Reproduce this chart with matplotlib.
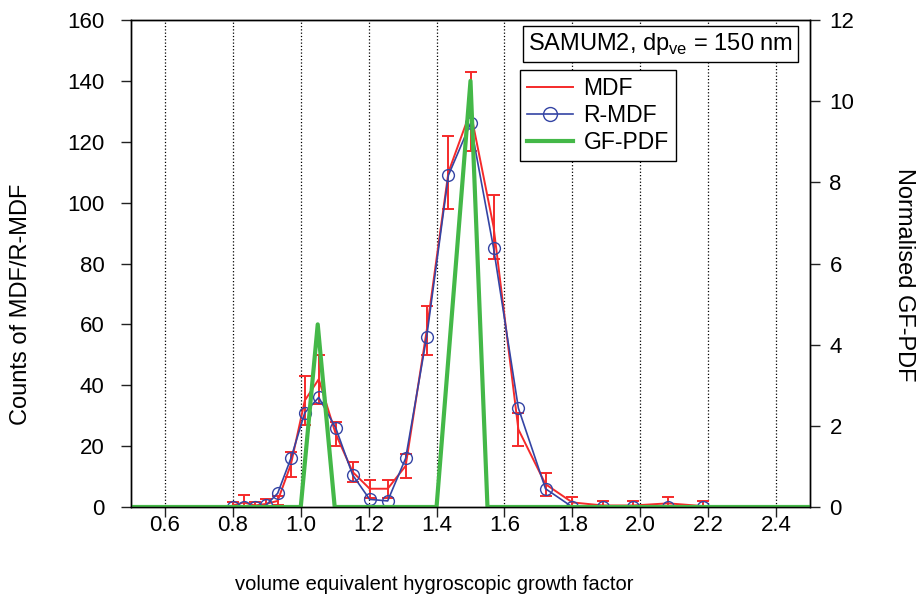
import matplotlib
matplotlib.use("Agg")
import matplotlib.pyplot as plt
from matplotlib.lines import Line2D

plt.rcParams['font.family'] = ['Liberation Sans', 'DejaVu Sans']

# growth factor bins
gf = [0.80, 0.832, 0.865, 0.897, 0.932, 0.971, 1.012, 1.053, 1.103, 1.153,
      1.203, 1.256, 1.309, 1.371, 1.435, 1.500, 1.568, 1.641, 1.721, 1.800,
      1.891, 1.979, 2.082, 2.185]
mdf = [0.5, 1.5, 0.5, 1.0, 2.0, 14.0, 35.0, 42.0, 24.0, 11.5,
       6.0, 6.0, 13.5, 58.0, 110.0, 130.0, 92.0, 25.5, 7.5, 1.5,
       0.5, 0.5, 1.2, 0.3]
mdf_err = [1.2, 2.5, 1.2, 1.5, 1.5, 4.0, 8.0, 8.0, 4.0, 3.3,
           3.0, 3.0, 4.0, 8.0, 12.0, 13.0, 10.5, 5.5, 3.8, 1.7,
           1.5, 1.5, 2.0, 1.8]
rmdf = [0.0, 0.0, 0.0, 0.5, 4.5, 16.0, 31.0, 36.0, 26.0, 10.5,
        2.5, 2.0, 16.0, 56.0, 109.0, 126.0, 85.0, 32.5, 6.0, 0.0,
        0.0, 0.0, 0.0, 0.0]

# GF-PDF (normalised)
pdf_x = [0.5, 1.0, 1.05, 1.10, 1.40, 1.50, 1.55, 2.5]
pdf_y = [0.0, 0.0, 4.5, 0.0, 0.0, 10.5, 0.0, 0.0]

xticks = [0.6, 0.8, 1.0, 1.2, 1.4, 1.6, 1.8, 2.0, 2.2, 2.4]
yticks_left = [0, 20, 40, 60, 80, 100, 120, 140, 160]
yticks_right = [0, 2, 4, 6, 8, 10, 12]

red = '#f52a2a'
blue = '#3444a4'
green = '#44b848'

W, H = 917, 597
fig = plt.figure(figsize=(W / 100, H / 100), dpi=100)
ax = fig.add_axes([131 / W, 1 - 507 / H, 679 / W, 487 / H])
ax2 = ax.twinx()

ax.errorbar(gf, mdf, yerr=mdf_err, color=red, lw=1.4, capsize=4.5,
            elinewidth=1.4, capthick=1.4, zorder=3)
ax.plot(gf, rmdf, color=blue, lw=1.2, marker='o', ms=8.5, mfc='none',
        mec=blue, mew=1.0, zorder=4)
ax2.plot(pdf_x, pdf_y, color=green, lw=3.0)

ax.set_xlim(0.5, 2.5)
ax.set_ylim(0, 160)
ax2.set_ylim(0, 12)
ax.set_xticks(xticks)
ax.set_xticklabels([f'{v:.1f}' for v in xticks])
ax.set_yticks(yticks_left)
ax2.set_yticks(yticks_right)

ax.grid(axis='x', linestyle=':', color='black', lw=0.9)
ax.set_axisbelow(True)

for a in (ax, ax2):
    a.tick_params(direction='out', length=7, width=1.0, labelsize=16, color='#222222')
    for s in a.spines.values():
        s.set_linewidth(1.0)
ax.tick_params(axis='x', pad=-1)
ax.tick_params(axis='y', pad=12)
ax2.tick_params(axis='y', pad=7)

fig.text(434 / W, 1 - 585 / H, 'volume equivalent hygroscopic growth factor',
         ha='center', va='center', fontsize=14.5)
fig.text(21 / W, 1 - 304 / H, 'Counts of MDF/R-MDF', rotation=90,
         ha='center', va='center', fontsize=17)
fig.text(904 / W, 1 - 275 / H, 'Normalised GF-PDF', rotation=-90,
         ha='center', va='center', fontsize=17)

# legend
handles = [Line2D([], [], color=red, lw=1.4),
           Line2D([], [], color=blue, lw=1.2, marker='o', ms=10, mfc='none', mec=blue),
           Line2D([], [], color=green, lw=3.0)]
leg = ax2.legend(handles, ['MDF', 'R-MDF', 'GF-PDF'], loc='upper left',
                 bbox_to_anchor=((520 - 131) / 679, (507 - 70) / 487), fontsize=16.5,
                 frameon=True, fancybox=False, edgecolor='black', framealpha=1,
                 handlelength=2.0, handletextpad=0.45, borderpad=0.32,
                 labelspacing=0.16, borderaxespad=0)
leg.get_frame().set_linewidth(1.0)

ax2.text((797 - 131 - 4) / 679, (507 - 31) / 487,
         'SAMUM2, dp$_{\\mathregular{ve}}$ = 150 nm', transform=ax2.transAxes,
         ha='right', va='top', fontsize=17,
         bbox=dict(boxstyle='square,pad=0.2', fc='white', ec='black', lw=1.0))

fig.savefig('out.png', dpi=100)
